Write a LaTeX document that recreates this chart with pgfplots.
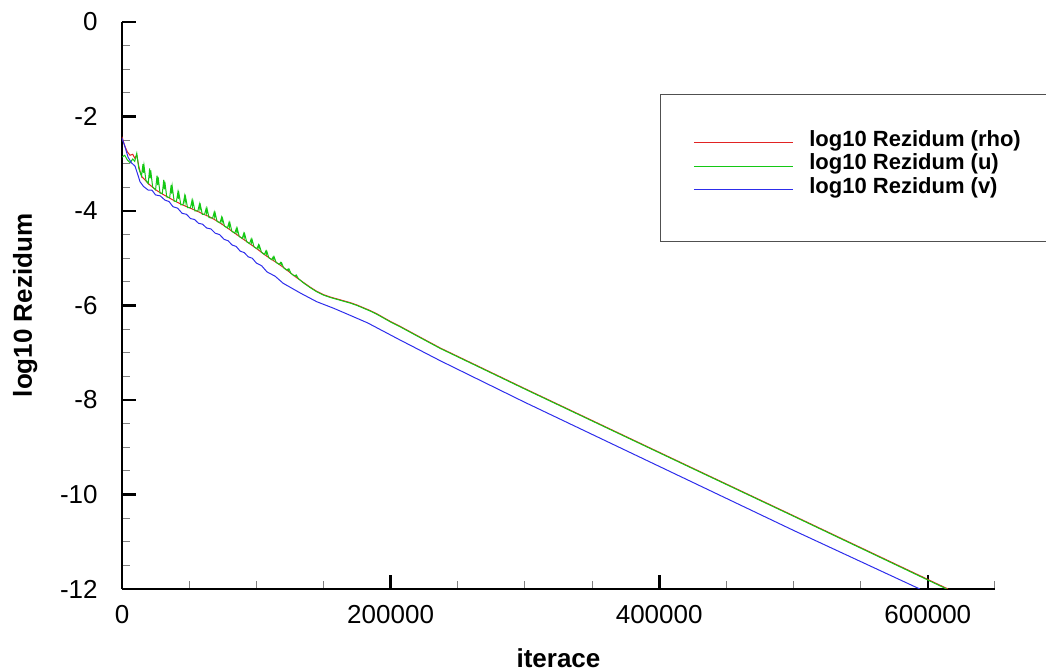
\documentclass[border=0pt]{standalone}
\usepackage{fontspec}
\setmainfont{Liberation Sans}
\usepackage{pgfplots}
\pgfplotsset{compat=1.18}
\definecolor{cR}{RGB}{225,35,35}
\definecolor{cG}{RGB}{20,200,20}
\definecolor{cB}{RGB}{45,45,235}
\definecolor{boxgray}{RGB}{80,80,80}
\begin{document}
\begin{tikzpicture}
\path[use as bounding box] (-61pt,-41.5pt) rectangle (462pt,294.5pt);
\begin{axis}[
  scale only axis, width=436.5pt, height=283.5pt,
  xmin=0, xmax=650000, ymin=-12, ymax=0,
  axis lines*=left,
  axis line style={line width=1pt},
  tick align=inside,
  xtick={0,200000,400000,600000},
  xticklabels={0,200000,400000,600000},
  ytick={0,-2,-4,-6,-8,-10,-12},
  yticklabels={0,-2,-4,-6,-8,-10,-12},
  minor xtick={50000,100000,150000,250000,300000,350000,450000,500000,550000,650000},
  minor y tick num=3,
  major tick length=7pt, minor tick length=4pt,
  every major tick/.style={line width=1.3pt, black},
  every minor tick/.style={line width=0.5pt, gray},
  scaled x ticks=false,
  tick label style={font=\fontsize{13}{15}\selectfont},
  xticklabel style={anchor=north, inner sep=0pt, yshift=-8pt},
  yticklabel style={anchor=east, inner sep=0pt, xshift=-12pt},
  xlabel={iterace}, ylabel={log10 Rezidum},
  label style={font=\bfseries\fontsize{13}{15}\selectfont},
  xlabel style={at={(axis description cs:0.5,0)}, anchor=center, yshift=-34.5pt},
  ylabel style={at={(axis description cs:-0.111,0.5)}, anchor=center},
  clip mode=individual,
  legend cell align=left,
  legend style={at={(axis description cs:0.654,0.8095)}, anchor=north west,
    draw=none, fill=none, inner sep=0pt, row sep=2.3pt, column sep=8pt,
    font=\bfseries\fontsize{11}{13}\selectfont,
    nodes={inner sep=0pt}},
  legend image code/.code={\draw[#1, line width=0.5pt] (0pt,-1.35pt) -- (49.5pt,-1.35pt);},
]
\addplot[cR, line width=0.5pt] coordinates {
(0,-2.43) (2000,-2.62) (4000,-2.75) (6000,-2.82) (8000,-2.80) (9500,-2.88) (11000,-2.82) (12500,-3.05) (14000,-3.22) (15000,-3.28) (20000,-3.43) (25000,-3.55) (30000,-3.64) (35000,-3.72) (40000,-3.80) (45000,-3.87) (50000,-3.93) (55000,-3.99) (60000,-4.06) (65000,-4.12) (70000,-4.20) (75000,-4.29) (80000,-4.39) (85000,-4.49) (90000,-4.59) (95000,-4.69) (100000,-4.79) (105000,-4.90) (110000,-5.00) (115000,-5.09) (120000,-5.19) (125000,-5.30) (130000,-5.41) (135000,-5.51) (140000,-5.61) (145000,-5.70) (150000,-5.77) (155000,-5.82) (160000,-5.86) (165000,-5.90) (170000,-5.94) (175000,-5.99) (180000,-6.05) (185000,-6.11) (190000,-6.18) (195000,-6.26) (200000,-6.34) (207000,-6.44) (220000,-6.64) (237000,-6.90) (300000,-7.76) (424000,-9.43) (500000,-10.45) (615000,-12.0)
};
\addlegendentry{log10 Rezidum (rho)}
\addplot[cG, line width=0.5pt] coordinates {
(0,-2.86) (2000,-2.82) (4000,-2.92) (6000,-2.98) (8000,-2.90) (9500,-2.95) (11000,-2.78) (12500,-3.10) (14000,-3.22)
(14500,-3.26) (15600,-3.01) (16000,-3.19) (16400,-3.04) (17800,-3.35)
(19500,-3.42) (20600,-3.10) (21000,-3.31) (21400,-3.14) (22800,-3.49)
(25000,-3.55) (26100,-3.25) (26500,-3.45) (26900,-3.28) (28300,-3.62)
(30000,-3.63) (31100,-3.34) (31500,-3.54) (31900,-3.38) (33300,-3.70)
(35500,-3.72) (36600,-3.45) (37000,-3.63) (37400,-3.48) (38800,-3.79)
(40500,-3.80) (41600,-3.61) (42000,-3.74) (42400,-3.63) (43800,-3.87)
(45500,-3.86) (46600,-3.69) (47000,-3.81) (47400,-3.71) (48800,-3.93)
(51000,-3.93) (52100,-3.78) (52500,-3.89) (52900,-3.80) (54300,-4.00)
(56500,-4.00) (57600,-3.86) (58000,-3.96) (58400,-3.88) (59800,-4.07)
(61500,-4.07) (62600,-3.95) (63000,-4.04) (63400,-3.96) (64800,-4.14)
(67500,-4.15) (68600,-4.03) (69000,-4.12) (69400,-4.05) (70800,-4.22)
(73000,-4.25) (74100,-4.14) (74500,-4.23) (74900,-4.16) (76300,-4.32)
(78500,-4.36) (79600,-4.25) (80000,-4.33) (80400,-4.26) (81800,-4.43)
(84000,-4.47) (85100,-4.37) (85500,-4.45) (85900,-4.38) (87300,-4.54)
(89500,-4.58) (90600,-4.48) (91000,-4.56) (91400,-4.49) (92800,-4.65)
(95000,-4.69) (96100,-4.60) (96500,-4.67) (96900,-4.61) (98300,-4.76)
(100500,-4.80) (101600,-4.72) (102000,-4.79) (102400,-4.74) (103800,-4.87)
(106000,-4.92) (107100,-4.85) (107500,-4.91) (107900,-4.86) (109300,-4.99)
(111500,-5.03) (112600,-4.97) (113000,-5.02) (113400,-4.98) (114800,-5.09)
(117000,-5.13) (118100,-5.09) (118500,-5.13) (118900,-5.10) (120300,-5.20)
(122500,-5.25) (123600,-5.23) (124000,-5.26) (124400,-5.23) (125800,-5.32)
(128000,-5.37) (129100,-5.36) (129500,-5.38) (129900,-5.36) (131300,-5.43)
(135000,-5.52) (140000,-5.62) (145000,-5.71) (150000,-5.78) (155000,-5.83) (160000,-5.87) (165000,-5.91) (170000,-5.95) (175000,-6.00) (180000,-6.06) (185000,-6.12) (190000,-6.19) (195000,-6.27) (200000,-6.35) (207000,-6.45) (220000,-6.65) (237000,-6.91) (300000,-7.77) (424000,-9.44) (500000,-10.46) (614000,-12.0)
};
\addlegendentry{log10 Rezidum (u)}
\addplot[cB, line width=0.5pt] coordinates {
(0,-2.46) (2000,-2.62) (4500,-2.86) (7000,-2.98) (9700,-3.05) (12000,-3.25) (13400,-3.38) (16000,-3.48) (19600,-3.56) (22300,-3.56) (25000,-3.66) (28500,-3.68) (32000,-3.77) (35000,-3.80) (38000,-3.91) (41400,-3.94) (44800,-4.05) (48000,-4.07) (51000,-4.16) (54000,-4.18) (57000,-4.26) (60000,-4.28) (63000,-4.36) (66200,-4.38) (69400,-4.47) (72700,-4.50) (76000,-4.60) (79000,-4.63) (82000,-4.72) (85000,-4.75) (88000,-4.85) (91000,-4.88) (94000,-4.97) (97000,-5.00) (100000,-5.10) (104000,-5.16) (108000,-5.29) (114000,-5.38) (120000,-5.53) (133000,-5.74) (145000,-5.92) (157700,-6.06) (170000,-6.21) (183000,-6.37) (195000,-6.55) (207000,-6.73) (220000,-6.92) (237000,-7.17) (300000,-8.05) (424000,-9.73) (500000,-10.76) (594000,-12.0)
};
\addlegendentry{log10 Rezidum (v)}
\end{axis}
\draw[line width=0.5pt, boxgray] (269pt,173.5pt) rectangle (480pt,247pt);
\end{tikzpicture}
\end{document}
